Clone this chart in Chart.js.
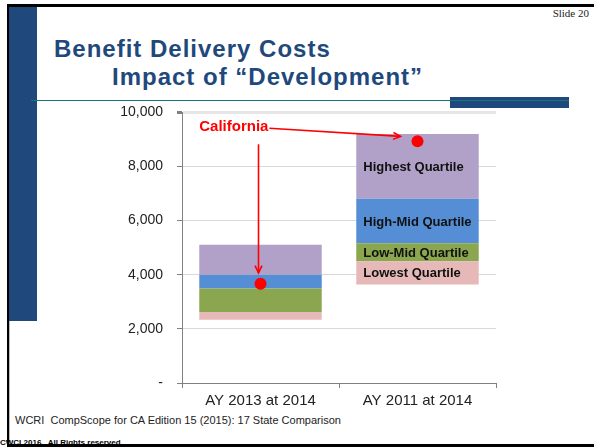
<!DOCTYPE html>
<html lang="en">
<head>
    <meta charset="UTF-8">
    <title>Benefit Delivery Costs</title>
    <script src="https://cdn.jsdelivr.net/npm/chart.js"></script>
    <style>
        body {
            margin: 0;
            width: 594px;
            height: 447px;
            position: relative;
            overflow: hidden;
            background: #ffffff;
            font-family: "Liberation Sans", Arial, sans-serif;
        }
        .box { position: absolute; }
        .title {
            position: absolute;
            color: #1F497D;
            font-weight: bold;
            font-size: 24px;
            letter-spacing: 1px;
            white-space: nowrap;
            line-height: 1;
        }
        #slide {
            position: absolute;
            right: 5px;
            top: 7px;
            font-family: "Liberation Serif", serif;
            font-size: 11px;
            color: #222;
        }
        #source {
            position: absolute;
            left: 15px;
            top: 414px;
            font-size: 11px;
            color: #222;
            white-space: nowrap;
        }
        #copy {
            position: absolute;
            left: 0;
            top: 438px;
            font-size: 8px;
            font-weight: bold;
            color: #000;
            white-space: nowrap;
        }
        #chartWrap {
            position: absolute;
            left: 0;
            top: 90px;
            width: 594px;
            height: 325px;
        }
    </style>
</head>
<body>
    <div class="box" style="left:9px;top:7px;width:28px;height:314px;background:#1F497D"></div>
    <div class="box" style="left:450px;top:97px;width:119px;height:11px;background:#1F497D"></div>
    <div class="box" style="left:31px;top:100px;width:538px;height:1px;background:#17767A"></div>
    <div class="title" style="left:54px;top:37px">Benefit Delivery Costs</div>
    <div class="title" style="left:112px;top:65px">Impact of “Development”</div>
    <div id="slide">Slide 20</div>
    <div id="source">WCRI&nbsp; CompScope for CA Edition 15 (2015): 17 State Comparison</div>
    <div class="box" style="left:7px;top:4px;width:587px;height:3px;background:#000"></div>
    <div class="box" style="left:7px;top:4px;width:2px;height:443px;background:#000"></div>
    <div class="box" style="left:9px;top:321px;width:1px;height:126px;background:#bbb"></div>
    <div id="copy">CWCI 2016.&nbsp; All Rights reserved.</div>
    <div class="box" style="left:7px;top:444px;width:587px;height:3px;background:#000"></div>
    <div id="chartWrap"><canvas id="costChart"></canvas></div>

    <script>
        // Datos
        const categories = ['AY 2013 at 2014', 'AY 2011 at 2014'];
        const quartileNames = ['Lowest Quartile', 'Low-Mid Quartile', 'High-Mid Quartile', 'Highest Quartile'];
        const lowestQuartile = [[2340, 2620], [3640, 4500]];
        const lowMidQuartile = [[2620, 3490], [4500, 5160]];
        const highMidQuartile = [[3490, 4000], [5160, 6810]];
        const highestQuartile = [[4000, 5110], [6810, 9200]];
        const california = [3665, 8930];
        const yTicks = [0, 2000, 4000, 6000, 8000, 10000];

        const quartileColors = ['#E6B9B8', '#8AA64F', '#558ED5', '#B1A0C7'];
        const quartileData = [lowestQuartile, lowMidQuartile, highMidQuartile, highestQuartile];

        // etiquetas dentro de la segunda barra
        const quartileLabels = {
            id: 'quartileLabels',
            afterDatasetsDraw(chart) {
                const ctx = chart.ctx;
                ctx.save();
                ctx.font = 'bold 13px "Liberation Sans", Arial, sans-serif';
                ctx.fillStyle = '#111';
                ctx.textAlign = 'left';
                ctx.textBaseline = 'middle';
                quartileNames.forEach((name, i) => {
                    const el = chart.getDatasetMeta(i).data[1];
                    const left = el.x - el.width / 2;
                    ctx.fillText(name, left + 7, (el.y + el.base) / 2 + 1);
                });
                ctx.restore();
            }
        };

        function arrowHead(ctx, x, y, angle) {
            const len = 8;
            ctx.beginPath();
            ctx.moveTo(x - len * Math.cos(angle - 0.45), y - len * Math.sin(angle - 0.45));
            ctx.lineTo(x, y);
            ctx.lineTo(x - len * Math.cos(angle + 0.45), y - len * Math.sin(angle + 0.45));
            ctx.stroke();
        }

        // texto "California" y flechas
        const californiaNote = {
            id: 'californiaNote',
            afterDatasetsDraw(chart) {
                const ctx = chart.ctx;
                const yScale = chart.scales.y;
                const bar = chart.getDatasetMeta(0).data[0];
                const dots = chart.getDatasetMeta(4).data;
                const lx = bar.x - bar.width / 2;
                const ly = yScale.getPixelForValue(9450);
                ctx.save();
                ctx.font = 'bold 15px "Liberation Sans", Arial, sans-serif';
                ctx.fillStyle = '#FF0000';
                ctx.textAlign = 'left';
                ctx.textBaseline = 'middle';
                ctx.fillText('California', lx, ly);
                const tw = ctx.measureText('California').width;

                ctx.strokeStyle = '#FF0000';
                ctx.lineWidth = 1.6;
                // horizontal
                const x1 = lx + tw + 1, y1 = ly + 1;
                const x2 = dots[1].x - 17, y2 = dots[1].y - 5;
                ctx.beginPath();
                ctx.moveTo(x1, y1);
                ctx.lineTo(x2, y2);
                ctx.stroke();
                arrowHead(ctx, x2, y2, Math.atan2(y2 - y1, x2 - x1));
                // vertical
                const vx = dots[0].x - 2;
                const vy1 = ly + 17, vy2 = dots[0].y - 11;
                ctx.beginPath();
                ctx.moveTo(vx, vy1);
                ctx.lineTo(vx, vy2);
                ctx.stroke();
                arrowHead(ctx, vx, vy2, Math.PI / 2);
                ctx.restore();
            }
        };

        const datasets = quartileNames.map((name, i) => ({
            type: 'bar',
            label: name,
            data: quartileData[i],
            backgroundColor: quartileColors[i],
            borderWidth: 0,
            grouped: false,
            categoryPercentage: 1,
            barPercentage: 0.78,
            order: 2
        }));
        datasets.push({
            type: 'line',
            label: 'California',
            data: california,
            showLine: false,
            pointRadius: 6,
            pointBackgroundColor: '#FF0000',
            pointBorderWidth: 0,
            order: 0
        });

        const costChart = new Chart(document.getElementById('costChart'), {
            type: 'bar',
            data: { labels: categories, datasets: datasets },
            options: {
                responsive: true,
                maintainAspectRatio: false,
                animation: false,
                layout: { padding: { top: 11, right: 98, bottom: 0, left: 0 } },
                plugins: {
                    legend: { display: false },
                    tooltip: { enabled: false }
                },
                scales: {
                    x: {
                        offset: true,
                        border: { color: '#808080' },
                        grid: {
                            offset: true,
                            drawOnChartArea: false,
                            tickLength: 5,
                            tickColor: '#808080'
                        },
                        ticks: {
                            padding: 4,
                            color: '#222',
                            font: { family: '"Liberation Sans", Arial, sans-serif', size: 15 }
                        },
                        afterFit(scale) { scale.height = 32; }
                    },
                    y: {
                        min: 0,
                        max: 10000,
                        border: { color: '#808080' },
                        afterBuildTicks(scale) {
                            scale.ticks = yTicks.map(v => ({ value: v }));
                        },
                        grid: {
                            color: ctx => ctx.tick && ctx.tick.value === 10000 ? '#E6E6E6' : '#D9D9D9',
                            lineWidth: ctx => ctx.tick && ctx.tick.value === 10000 ? 3 : 1,
                            tickLength: 5,
                            tickColor: '#808080'
                        },
                        ticks: {
                            padding: 14,
                            color: '#222',
                            font: { family: '"Liberation Sans", Arial, sans-serif', size: 14 },
                            callback: v => v === 0 ? '-' : v.toLocaleString('en-US')
                        },
                        afterFit(scale) { scale.width = 182; }
                    }
                }
            },
            plugins: [quartileLabels, californiaNote]
        });
    </script>
</body>
</html>
